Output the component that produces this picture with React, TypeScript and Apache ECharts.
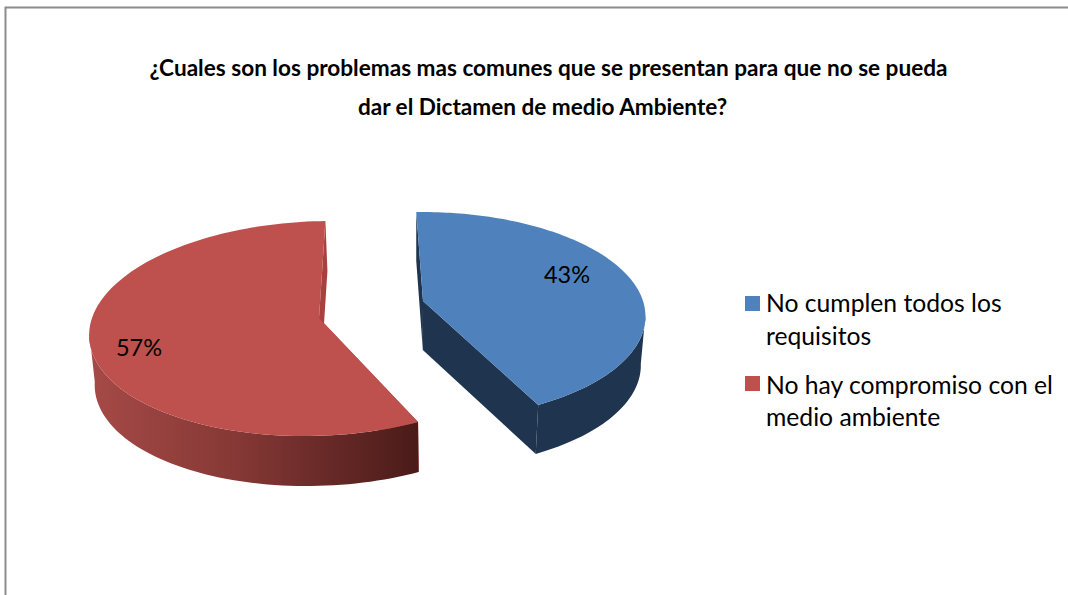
import React, { useEffect, useRef } from "react";
import * as echarts from "echarts";

const categories = ["No cumplen todos los requisitos", "No hay compromiso con el medio ambiente"];
const legendLines = [
  ["No cumplen todos los", "requisitos"],
  ["No hay compromiso con el", "medio ambiente"],
];
const values = [43, 57];
const titleLines = [
  "¿Cuales son los problemas mas comunes que se presentan para que no se pueda",
  "dar el Dictamen de medio Ambiente?",
];

const FONT = "Lato, Carlito, 'Noto Sans', sans-serif";
const START_ANGLE = -1.7;

const sliceLayout = [
  { cx: 423, cy: 301, rx: 220, ry: 101.7, k: 0.1426, vanish: 415, wallScale: 0.98, depth: 49, labelX: 567, labelY: 274 },
  { cx: 319, cy: 318, rx: 227, ry: 106.5, k: 0.0977, vanish: 460, wallScale: 0.985, depth: 50, labelX: 139, labelY: 347 },
];
const topColors = ["#4F81BD", "#BE504D"];
const edgeColors = ["#1F344E", "#A8403E"];

function wallFill(i: number) {
  if (i === 0) return "#1F344E";
  return new echarts.graphic.LinearGradient(0, 0, 1, 0, [
    { offset: 0, color: "#A64A47" },
    { offset: 0.45, color: "#853835" },
    { offset: 1, color: "#4A1B19" },
  ]);
}

function renderSlice(params: any, api: any) {
  const i = params.dataIndex;
  const value = api.value(0);
  const total = values.reduce((a, b) => a + b, 0);
  const before = values.slice(0, i).reduce((a, b) => a + b, 0);
  const a0 = ((START_ANGLE + (before / total) * 360) * Math.PI) / 180;
  const a1 = a0 + (value / total) * Math.PI * 2;
  const L = sliceLayout[i];

  const top = (r: number, a: number) => {
    const u = r * Math.sin(a);
    const v = -r * Math.cos(a);
    const s = 1 / (1 - L.k * v);
    return [L.vanish + (L.cx + L.rx * u - L.vanish) * s, L.cy + L.ry * v * s];
  };
  const drop = (p: number[]) => [L.vanish + (p[0] - L.vanish) * L.wallScale, p[1] + L.depth];

  const arc: number[][] = [];
  const front: number[][] = [];
  const steps = 120;
  for (let n = 0; n <= steps; n++) {
    const a = a0 + ((a1 - a0) * n) / steps;
    const p = top(1, a);
    arc.push(p);
    if (-Math.cos(a) >= 0.12) front.push(p);
  }
  const apex = top(0, a0);
  const face = [apex, ...arc];
  const band = [...front, ...front.map(drop).reverse()];
  const edgeA = [apex, arc[0], drop(arc[0]), drop(apex)];
  const edgeB = [apex, arc[steps], drop(arc[steps]), drop(apex)];
  const poly = (points: number[][], fill: any) => ({
    type: "polygon",
    shape: { points },
    style: { fill, stroke: null },
  });

  return {
    type: "group",
    children: [
      poly(edgeA, edgeColors[i]),
      poly(edgeB, edgeColors[i]),
      poly(band, wallFill(i)),
      poly(face, topColors[i]),
      {
        type: "text",
        style: {
          x: L.labelX,
          y: L.labelY,
          text: Math.round((value / total) * 100) + "%",
          fill: "#000",
          font: `23.5px ${FONT}`,
          align: "center",
          verticalAlign: "middle",
        },
      },
    ],
  };
}

function buildLegend() {
  const rows = [
    { box: 296, lines: [302, 335] },
    { box: 376, lines: [384, 416] },
  ];
  const out: any[] = [];
  rows.forEach((row, i) => {
    out.push({
      type: "rect",
      shape: { x: 745, y: row.box, width: 15, height: 15 },
      style: { fill: topColors[i] },
    });
    legendLines[i].forEach((t, j) =>
      out.push({
        type: "text",
        style: {
          x: 766,
          y: row.lines[j],
          text: t,
          fill: "#000",
          font: `24.7px ${FONT}`,
          align: "left",
          verticalAlign: "middle",
        },
      })
    );
  });
  return out;
}

const titleStyle = {
  fontFamily: FONT,
  fontSize: 22.6,
  fontWeight: "bold",
  color: "#000",
  lineHeight: 39,
};

export default function App() {
  const ref = useRef<HTMLDivElement>(null);
  useEffect(() => {
    document.body.style.margin = "0";
    const chart = echarts.init(ref.current!, null, { renderer: "svg" });
    chart.setOption({
      animation: false,
      backgroundColor: "#fff",
      title: [
        { text: titleLines[0], left: 548.5, top: 48, textAlign: "center", padding: 0, textStyle: titleStyle },
        { text: titleLines[1], left: 542.5, top: 87, textAlign: "center", padding: 0, textStyle: titleStyle },
      ],
      graphic: [
        {
          type: "polyline",
          shape: { points: [[5.5, 595], [5.5, 7.5], [1068, 7.5]] },
          style: { stroke: "#8c8c8c", lineWidth: 2, fill: null },
        },
        ...buildLegend(),
      ],
      series: [
        {
          type: "custom",
          coordinateSystem: "none",
          renderItem: renderSlice,
          data: values.map((v, i) => ({ name: categories[i], value: [v] })),
          silent: true,
        },
      ],
    });
    return () => chart.dispose();
  }, []);
  return <div ref={ref} style={{ width: 1068, height: 595 }} />;
}
